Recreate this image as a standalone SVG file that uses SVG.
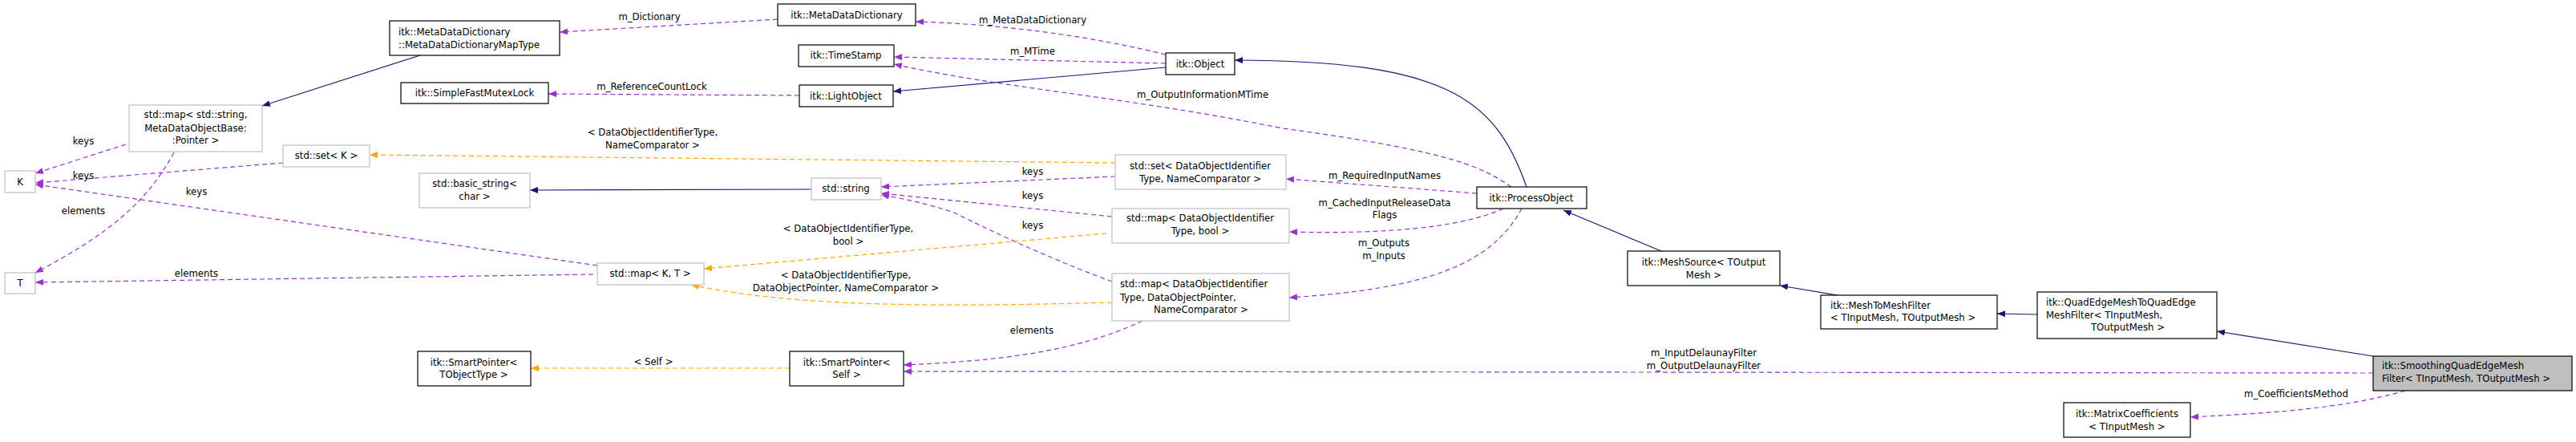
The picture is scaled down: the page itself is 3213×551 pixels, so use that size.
<svg xmlns="http://www.w3.org/2000/svg" width="3213" height="551" viewBox="0 0 3213 551">
<style>
text{font-family:"DejaVu Sans Condensed","DejaVu Sans",sans-serif;font-size:13px;fill:#000;text-anchor:middle}
.l{text-anchor:start}
.nb{fill:#fff;stroke:#000;stroke-width:1.2}
.ng{fill:#fff;stroke:#bfbfbf;stroke-width:1.2}
.nh{fill:#bfbfbf;stroke:#000;stroke-width:1.2}
.inh{fill:none;stroke:#191970;stroke-width:1.2}
.use{fill:none;stroke:#9a32cd;stroke-width:1.2;stroke-dasharray:6,4}
.tpl{fill:none;stroke:#ffa500;stroke-width:1.2;stroke-dasharray:6,4}
</style>
<defs>
<marker id="an" viewBox="0 0 10 8" refX="10" refY="4" markerWidth="10" markerHeight="8" markerUnits="userSpaceOnUse" orient="auto"><path d="M0,0L10,4L0,8z" fill="#191970"/></marker>
<marker id="ap" viewBox="0 0 10 8" refX="10" refY="4" markerWidth="10" markerHeight="8" markerUnits="userSpaceOnUse" orient="auto"><path d="M0,0L10,4L0,8z" fill="#9a32cd"/></marker>
<marker id="ao" viewBox="0 0 10 8" refX="10" refY="4" markerWidth="10" markerHeight="8" markerUnits="userSpaceOnUse" orient="auto"><path d="M0,0L10,4L0,8z" fill="#ffa500"/></marker>
</defs>
<rect width="3213" height="551" fill="#fff"/>
<g id="edges">
<path class="use" d="M970,24L698,40" marker-end="url(#ap)"/><text x="810" y="25">m_Dictionary</text>
<path class="use" d="M1454,68C1360,45 1250,30 1142,27" marker-end="url(#ap)"/><text x="1288" y="29">m_MetaDataDictionary</text>
<path class="use" d="M1454,79L1115,71" marker-end="url(#ap)"/><text x="1288" y="68">m_MTime</text>
<path class="inh" d="M1454,84L1114,114" marker-end="url(#an)"/>
<path class="use" d="M997,119L684,117" marker-end="url(#ap)"/><text x="813" y="112">m_ReferenceCountLock</text>
<path class="inh" d="M1904,233C1865,120 1800,76 1540,75" marker-end="url(#an)"/>
<path class="use" d="M1885,233C1850,210 1820,190 1600,160C1400,120 1250,110 1115,80" marker-end="url(#ap)"/><text x="1500" y="122">m_OutputInformationMTime</text>
<path class="use" d="M1842,241L1604,223" marker-end="url(#ap)"/><text x="1727" y="223">m_RequiredInputNames</text>
<path class="use" d="M1875,260C1820,285 1720,292 1608,289" marker-end="url(#ap)"/><text x="1727" y="257">m_CachedInputReleaseData</text><text x="1727" y="272">Flags</text>
<path class="use" d="M1898,260C1860,330 1780,360 1608,371" marker-end="url(#ap)"/><text x="1726" y="307">m_Outputs</text><text x="1726" y="323">m_Inputs</text>
<path class="tpl" d="M1391,203L461,193" marker-end="url(#ao)"/><text x="814" y="169">&lt; DataObjectIdentifierType,</text><text x="814" y="185">NameComparator &gt;</text>
<path class="use" d="M1391,220L1099,233" marker-end="url(#ap)"/><text x="1288" y="218">keys</text>
<path class="use" d="M1387,270L1099,241" marker-end="url(#ap)"/><text x="1288" y="248">keys</text>
<path class="use" d="M1387,351C1330,330 1260,300 1190,265C1160,255 1130,248 1099,243" marker-end="url(#ap)"/><text x="1288" y="285">keys</text>
<path class="tpl" d="M1380,291L878,335" marker-end="url(#ao)"/><text x="1058" y="289">&lt; DataObjectIdentifierType,</text><text x="1058" y="305">bool &gt;</text>
<path class="tpl" d="M1387,377C1200,382 1000,385 862,355" marker-end="url(#ao)"/><text x="1055" y="347">&lt; DataObjectIdentifierType,</text><text x="1055" y="363">DataObjectPointer, NameComparator &gt;</text>
<path class="use" d="M1425,400C1340,440 1240,450 1127,455" marker-end="url(#ap)"/><text x="1287" y="416">elements</text>
<path class="use" d="M2960,465L1127,463" marker-end="url(#ap)"/><text x="2125" y="444">m_InputDelaunayFilter</text><text x="2125" y="460">m_OutputDelaunayFilter</text>
<path class="use" d="M3000,487C2920,510 2830,515 2732,520" marker-end="url(#ap)"/><text x="2864" y="495">m_CoefficientsMethod</text>
<path class="inh" d="M2960,444L2765,413" marker-end="url(#an)"/>
<path class="inh" d="M2541,392L2491,391" marker-end="url(#an)"/>
<path class="inh" d="M2292,368L2220,356" marker-end="url(#an)"/>
<path class="inh" d="M2072,313L1950,262" marker-end="url(#an)"/>
<path class="inh" d="M1012,236L661,237" marker-end="url(#an)"/>
<path class="inh" d="M524,69L327,132" marker-end="url(#an)"/>
<path class="use" d="M157,180L44,216" marker-end="url(#ap)"/><text x="104" y="180">keys</text>
<path class="use" d="M217,190C180,260 120,300 44,340" marker-end="url(#ap)"/><text x="104" y="267">elements</text>
<path class="use" d="M353,203L44,228" marker-end="url(#ap)"/><text x="104" y="223">keys</text>
<path class="use" d="M745,331L44,230" marker-end="url(#ap)"/><text x="245" y="243">keys</text>
<path class="use" d="M740,342L44,352" marker-end="url(#ap)"/><text x="245" y="345">elements</text>
<path class="tpl" d="M985,459L662,459" marker-end="url(#ao)"/><text x="815" y="455">&lt; Self &gt;</text>
</g>
<g id="n_maptype"><rect class="nb" x="486" y="26" width="212" height="43"/><text class="l" x="497" y="44">itk::MetaDataDictionary</text><text class="l" x="497" y="60">::MetaDataDictionaryMapType</text></g>
<g id="n_mutex"><rect class="nb" x="500" y="103" width="184" height="26"/><text x="592" y="120">itk::SimpleFastMutexLock</text></g>
<g id="n_mapstr"><rect class="ng" x="161" y="131" width="166" height="58"/><text x="244" y="147">std::map&lt; std::string,</text><text x="244" y="164">MetaDataObjectBase:</text><text x="244" y="179">:Pointer &gt;</text></g>
<g id="n_setK"><rect class="ng" x="353" y="181" width="108" height="27"/><text x="407" y="198">std::set&lt; K &gt;</text></g>
<g id="n_K"><rect class="ng" x="6" y="213" width="38" height="27"/><text x="25" y="231">K</text></g>
<g id="n_T"><rect class="ng" x="6" y="340" width="38" height="26"/><text x="25" y="357">T</text></g>
<g id="n_bstr"><rect class="ng" x="523" y="216" width="138" height="43"/><text x="592" y="233">std::basic_string&lt;</text><text x="592" y="249">char &gt;</text></g>
<g id="n_spT"><rect class="nb" x="521" y="438" width="141" height="43"/><text x="591" y="456">itk::SmartPointer&lt;</text><text x="591" y="471">TObjectType &gt;</text></g>
<g id="n_mdd"><rect class="nb" x="970" y="5" width="172" height="27"/><text x="1056" y="23">itk::MetaDataDictionary</text></g>
<g id="n_ts"><rect class="nb" x="996" y="56" width="119" height="27"/><text x="1055" y="73">itk::TimeStamp</text></g>
<g id="n_lo"><rect class="nb" x="997" y="106" width="117" height="27"/><text x="1055" y="124">itk::LightObject</text></g>
<g id="n_obj"><rect class="nb" x="1454" y="66" width="86" height="27"/><text x="1497" y="84">itk::Object</text></g>
<g id="n_setD"><rect class="ng" x="1391" y="193" width="213" height="43"/><text x="1497" y="211">std::set&lt; DataObjectIdentifier</text><text x="1497" y="227">Type, NameComparator &gt;</text></g>
<g id="n_str"><rect class="ng" x="1012" y="222" width="87" height="27"/><text x="1055" y="239">std::string</text></g>
<g id="n_mapDb"><rect class="ng" x="1387" y="260" width="221" height="43"/><text x="1497" y="276">std::map&lt; DataObjectIdentifier</text><text x="1497" y="292">Type, bool &gt;</text></g>
<g id="n_mapKT"><rect class="ng" x="745" y="328" width="133" height="27"/><text x="811" y="345">std::map&lt; K, T &gt;</text></g>
<g id="n_mapDP"><rect class="ng" x="1387" y="341" width="221" height="59"/><text class="l" x="1397" y="358">std::map&lt; DataObjectIdentifier</text><text class="l" x="1397" y="375">Type, DataObjectPointer,</text><text x="1498" y="390">NameComparator &gt;</text></g>
<g id="n_spS"><rect class="nb" x="985" y="438" width="142" height="43"/><text x="1056" y="456">itk::SmartPointer&lt;</text><text x="1056" y="471">Self &gt;</text></g>
<g id="n_po"><rect class="nb" x="1842" y="233" width="137" height="27"/><text x="1910" y="251">itk::ProcessObject</text></g>
<g id="n_ms"><rect class="nb" x="2030" y="313" width="190" height="43"/><text x="2125" y="331">itk::MeshSource&lt; TOutput</text><text x="2125" y="347">Mesh &gt;</text></g>
<g id="n_m2m"><rect class="nb" x="2271" y="368" width="220" height="42"/><text class="l" x="2283" y="385">itk::MeshToMeshFilter</text><text class="l" x="2283" y="400">&lt; TInputMesh, TOutputMesh &gt;</text></g>
<g id="n_qe"><rect class="nb" x="2541" y="364" width="224" height="58"/><text class="l" x="2552" y="381">itk::QuadEdgeMeshToQuadEdge</text><text class="l" x="2552" y="397">MeshFilter&lt; TInputMesh,</text><text x="2654" y="412">TOutputMesh &gt;</text></g>
<g id="n_smooth"><rect class="nh" x="2960" y="444" width="248" height="43"/><text class="l" x="2971" y="460">itk::SmoothingQuadEdgeMesh</text><text class="l" x="2971" y="476">Filter&lt; TInputMesh, TOutputMesh &gt;</text></g>
<g id="n_mc"><rect class="nb" x="2574" y="502" width="158" height="43"/><text x="2653" y="520">itk::MatrixCoefficients</text><text x="2653" y="536">&lt; TInputMesh &gt;</text></g>
</svg>
